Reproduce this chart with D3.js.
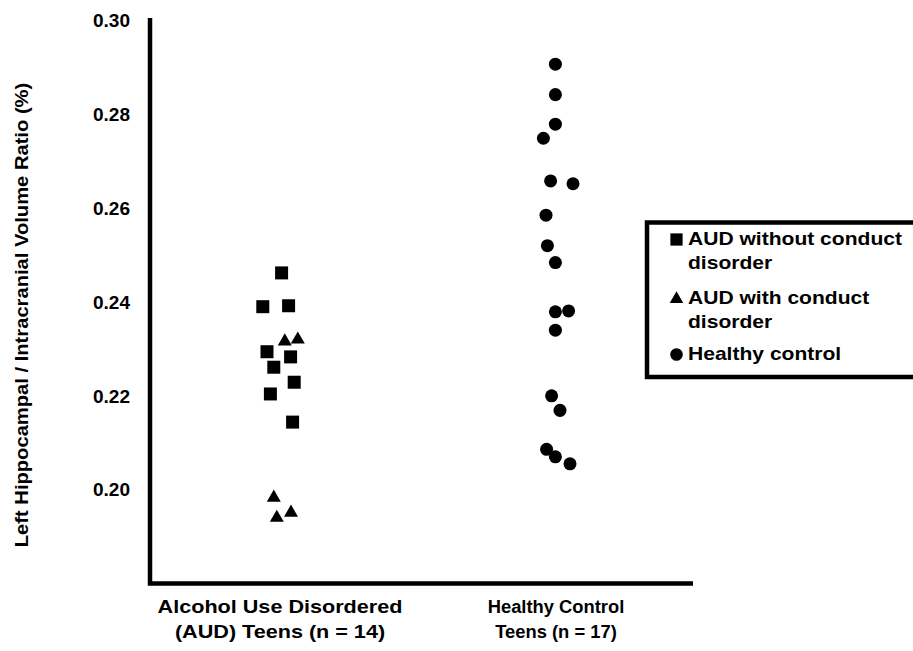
<!DOCTYPE html>
<html>
<head>
<meta charset="utf-8">
<script src="https://cdn.jsdelivr.net/npm/d3@7/dist/d3.min.js"></script>
<style>
  html, body { margin: 0; padding: 0; background: #fff; }
  text { font-family: "Liberation Sans", Arial, sans-serif; font-weight: bold; fill: #000; }
</style>
</head>
<body>
<svg id="chart" width="913" height="651"></svg>
<script>
// ---- data ----
const categories = ["AUD", "Healthy"];
const categoryLabels = [
  ["Alcohol Use Disordered", "(AUD) Teens (n = 14)"],
  ["Healthy Control", "Teens (n = 17)"]
];
const yTicks = [0.20, 0.22, 0.24, 0.26, 0.28, 0.30];

// AUD without conduct disorder (squares)
const audNoCdValues = [0.2462, 0.2390, 0.2392, 0.2294, 0.2283, 0.2261, 0.2229, 0.2204, 0.2144];
const audNoCdJitter = [0.08, -0.86, 0.43, -0.65, 0.53, -0.31, 0.71, -0.48, 0.63];
// AUD with conduct disorder (triangles)
const audCdValues = [0.2316, 0.2320, 0.1983, 0.1940, 0.1951];
const audCdJitter = [0.24, 0.89, -0.31, -0.16, 0.55];
// Healthy control (circles)
const healthyValues = [0.2907, 0.2842, 0.2779, 0.2749, 0.2658, 0.2652, 0.2585, 0.2520, 0.2484,
                       0.2379, 0.2381, 0.2340, 0.2200, 0.2169, 0.2086, 0.2070, 0.2055];
const healthyJitter = [-0.03, -0.03, -0.03, -0.63, -0.27, 0.85, -0.5, -0.43, -0.03,
                       -0.03, 0.63, -0.03, -0.22, 0.2, -0.47, -0.03, 0.7];

const legendLabels = [
  ["AUD without conduct", "disorder"],
  ["AUD with conduct", "disorder"],
  ["Healthy control"]
];

// ---- layout ----
const svg = d3.select("#chart");
const pLeft = 150, pRight = 693, pTop = 20.5, pBottom = 583.5;

const y = d3.scaleLinear().domain([0.18, 0.30]).range([pBottom, pTop]);
const x = d3.scalePoint().domain(categories).range([pLeft, 686]).padding(0.471);
const jit = d3.scaleLinear().domain([-1, 1]).range([-20, 20]);

const FS = 18;
const labelStretch = [1.2, 1.02];

// y tick labels
const yAxis = d3.axisLeft(y).tickValues(yTicks).tickFormat(d3.format(".2f")).tickSize(0).tickPadding(0);
const gy = svg.append("g").attr("transform", `translate(130,0)`).call(yAxis);
gy.select(".domain").remove();
gy.selectAll("text")
  .attr("font-size", FS).attr("font-family", '"Liberation Sans", Arial, sans-serif')
  .attr("font-weight", "bold").attr("fill", "#000")
  .attr("x", 0).attr("dy", null).attr("dominant-baseline", "central")
  .attr("transform", "scale(1.06,1)");

// axis lines
svg.append("path")
  .attr("d", `M${pLeft},${pTop - 2.5}V${pBottom}H${pRight}`)
  .attr("fill", "none").attr("stroke", "#000").attr("stroke-width", 4.5);

// x labels
categories.forEach((c, i) => {
  categoryLabels[i].forEach((line, j) => {
    svg.append("text")
      .attr("transform", `translate(${x(c)},${613 + j * 25}) scale(${labelStretch[i]},1)`)
      .attr("text-anchor", "middle").attr("font-size", FS).text(line);
  });
});

// y title
svg.append("text")
  .attr("transform", `translate(28,315) rotate(-90) scale(1.12,1)`)
  .attr("text-anchor", "middle").attr("font-size", FS)
  .text("Left Hippocampal / Intracranial Volume Ratio (%)");

// symbols
const sq = d3.symbol().type(d3.symbolSquare).size(169);
const tri = d3.symbol().type(d3.symbolTriangle).size(85);
const cir = d3.symbol().type(d3.symbolCircle).size(133);

function plotGroup(values, jitter, cat, sym) {
  svg.append("g").selectAll("path").data(values).join("path")
    .attr("d", sym())
    .attr("transform", (d, i) => `translate(${x(cat) + jit(jitter[i])},${y(d)})`)
    .attr("fill", "#000");
}
plotGroup(audNoCdValues, audNoCdJitter, "AUD", sq);
plotGroup(audCdValues, audCdJitter, "AUD", tri);
plotGroup(healthyValues, healthyJitter, "Healthy", cir);

// legend
svg.append("path")
  .attr("d", "M930,222.5H647V377H930")
  .attr("fill", "none").attr("stroke", "#000").attr("stroke-width", 4.5);

const legSyms = [
  d3.symbol().type(d3.symbolSquare).size(150),
  d3.symbol().type(d3.symbolTriangle).size(80),
  d3.symbol().type(d3.symbolCircle).size(125)
];
const legY = [239.5, 299, 354.5];
const legTextY = [[245, 269], [304, 328], [360]];
legendLabels.forEach((lines, i) => {
  svg.append("path").attr("d", legSyms[i]()).attr("transform", `translate(676.5,${legY[i]})`).attr("fill", "#000");
  lines.forEach((line, j) => {
    svg.append("text")
      .attr("transform", `translate(688,${legTextY[i][j]}) scale(1.17,1)`)
      .attr("font-size", FS).text(line);
  });
});
</script>
</body>
</html>
